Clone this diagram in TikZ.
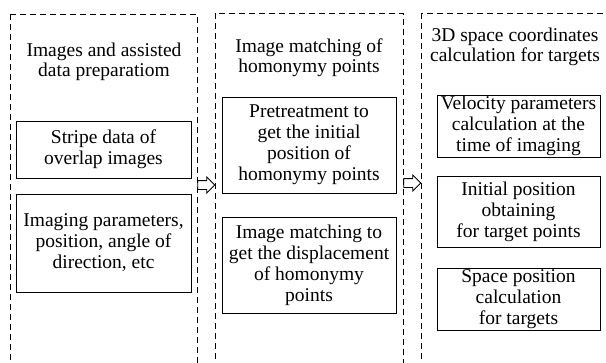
\documentclass[tikz,border=0pt]{standalone}
\usepackage{fontspec}
\setmainfont{Liberation Serif}
\usetikzlibrary{shapes.arrows}

\begin{document}
\begin{tikzpicture}[x=1pt, y=-1pt,
		column/.style={draw, dash pattern=on 6pt off 4pt, line width=0.8pt},
		stepbox/.style={draw, line width=0.7pt, align=center, inner sep=0pt,
			font=\fontsize{19.5}{21}\selectfont},
		title/.style={align=center, inner sep=0pt, font=\fontsize{19.5}{20}\selectfont},
		hollow/.style={single arrow, draw, line width=0.8pt, inner sep=4pt,
			minimum height=17pt, single arrow head extend=3.5pt}]
		%%%%% START %%%%%
		\useasboundingbox (0, 0) rectangle (606, 362);
		\clip (0, 0) rectangle (606, 362);
		
		% dashed columns, open past the bottom edge
		\draw[column] (10, 14) rectangle (197, 380);
		\draw[column] (215, 13) rectangle (403, 380);
		\draw[column] (421, 13) rectangle (620, 380);
		
		% left column
		\node[title] (prep) at (104, 62) {Images and assisted\\data preparatiom};
		\node[stepbox, minimum width=175, minimum height=57] (stripe) at (103.5, 149.5) {Stripe data of\\overlap images};
		\node[stepbox, minimum width=175, minimum height=98] (param) at (103.5, 243) {Imaging parameters,\\position, angle of\\direction, etc};
		
		% middle column
		\node[title] (match) at (309, 58) {Image matching of\\homonymy points};
		\node[stepbox, minimum width=174, minimum height=96] (pretreat) at (309, 145) {Pretreatment to\\get the initial\\position of\\homonymy points};
		\node[stepbox, minimum width=174, minimum height=96] (displace) at (309, 265) {Image matching to\\get the displacement\\of homonymy\\points};
		
		% right column
		\node[title] (coord) at (515, 47) {3D space coordinates\\calculation for targets};
		\node[stepbox, minimum width=163, minimum height=62] (velocity) at (518.5, 126) {Velocity parameters\\calculation at the\\time of imaging};
		\node[stepbox, minimum width=163, minimum height=71] (initial) at (518.5, 211.5) {Initial position\\obtaining\\for target points};
		\node[stepbox, minimum width=163, minimum height=62] (space) at (518.5, 299) {Space position\\calculation\\for targets};
		
		% hollow arrows between the columns
		\node[hollow] (go1) at (204, 185) {};
		\node[hollow] (go2) at (410, 183) {};
		%%%%% END %%%%%
	\end{tikzpicture}
\end{document}
